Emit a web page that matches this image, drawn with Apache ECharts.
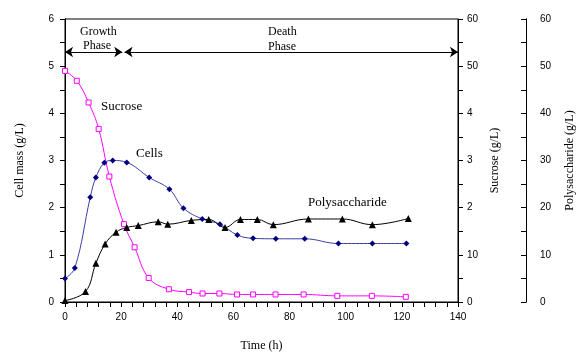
<!DOCTYPE html>
<html><head><meta charset="utf-8">
<script src="https://cdn.jsdelivr.net/npm/echarts@6/dist/echarts.min.js"></script>
<style>html,body{margin:0;padding:0;background:#fff}#c{width:576px;height:352px}</style>
</head><body><div id="c"></div>
<script>
// Time (h) of each sample, per series
const cellsTime = [0, 3.5, 9, 11, 14, 17, 22, 30, 37.2, 42.2, 48.9, 55.2, 61.4, 67, 75.1, 85.4, 97.4, 109.5, 121.6];
const cellsMass = [0.50, 0.72, 2.22, 2.64, 2.95, 3.00, 2.96, 2.64, 2.39, 1.99, 1.76, 1.65, 1.42, 1.35, 1.34, 1.34, 1.24, 1.24, 1.24];
const sucroseTime = [0, 4.2, 8.4, 12, 15.8, 21, 24.8, 29.8, 37, 44.2, 49, 55, 61.3, 67, 75, 85, 97, 109.3, 121.4];
const sucroseConc = [49, 46.9, 42.3, 36.7, 26.6, 16.5, 11.6, 5.1, 2.7, 2.1, 1.8, 1.8, 1.6, 1.6, 1.6, 1.6, 1.3, 1.3, 1.1];
const polyTime = [0, 7.3, 11, 14.3, 18.2, 22, 26.1, 33.2, 36.6, 45, 51.2, 57, 62.5, 68.5, 74.2, 86.7, 98.8, 109.5, 122.3];
const polyConc = [0.3, 2.2, 8.2, 12.3, 14.8, 15.8, 16.2, 17.0, 16.5, 17.3, 17.5, 15.8, 17.5, 17.5, 16.4, 17.6, 17.6, 16.4, 17.7];
// Tick labels
const xTicks = [0, 20, 40, 60, 80, 100, 120, 140];
const cellTicks = ['0', '1', '2', '3', '4', '5', '6'];
const sucroseTicks = ['0', '10', '2', '3', '4', '50', '60'];
const polyTicks = ['0', '10', '20', '30', '40', '50', '60'];
// Phase markers (time h, cell-mass axis level)
const growthPhase = [0, 20.4];
const deathPhase = [21.2, 140];
const phaseLevel = 5.3;

const zip = (a, b) => a.map((t, i) => [t, b[i]]);
const SANS = 'Liberation Sans', SERIF = 'Liberation Serif';
const nameStyle = {color: '#000', fontFamily: SERIF, fontSize: 12};
function labelAx(extra) {
  return Object.assign({
    type: 'value',
    axisLine: {show: true, lineStyle: {color: '#000', width: 1}},
    axisTick: {show: false},
    splitLine: {show: false},
    nameTextStyle: nameStyle
  }, extra);
}
function tickAx(extra, minorSplit, inside) {
  return Object.assign({
    type: 'value',
    axisLine: {show: true, lineStyle: {color: '#000', width: 1}},
    axisLabel: {show: false},
    axisTick: {show: true, inside: !!inside, length: 5, lineStyle: {color: '#000', width: 1}},
    minorTick: {show: true, splitNumber: minorSplit, length: 5, lineStyle: {color: '#000', width: 1}},
    splitLine: {show: false}
  }, extra);
}
function note(text, left, top, size) {
  return {text: text, left: left, top: top, padding: 0, itemGap: 0,
    textStyle: {fontFamily: SERIF, fontSize: size, fontWeight: 'normal', color: '#000'}};
}

const chart = echarts.init(document.getElementById('c'));
chart.setOption({
  animation: false,
  title: [
    note('Growth', 80, 26, 12),
    note('Phase', 83, 40, 12),
    note('Death', 268, 26, 12),
    note('Phase', 268, 41, 12),
    note('Sucrose', 101, 100, 13),
    note('Cells', 136, 147, 13),
    note('Polysaccharide', 308, 196, 13)
  ],
  grid: {left: 65, right: 118, top: 19, bottom: 50, containLabel: false, outerBoundsMode: 'none',
    show: true, borderColor: '#000', borderWidth: 1, backgroundColor: 'transparent'},
  xAxis: [
    labelAx({
      min: 0, max: 140, interval: 20, position: 'bottom',
      name: 'Time (h)', nameLocation: 'middle', nameGap: 38,
      axisLabel: {color: '#000', fontFamily: SANS, fontSize: 10, margin: 10,
        formatter: v => xTicks.includes(v) ? String(v) : ''}
    }),
    tickAx({min: 0, max: 140, interval: 20, position: 'bottom'}, 5)
  ],
  yAxis: [
    labelAx({
      min: 0, max: 6, interval: 1, position: 'left',
      name: 'Cell mass (g/L)', nameLocation: 'middle', nameRotate: 90, nameGap: 39,
      axisLabel: {color: '#000', fontFamily: SANS, fontSize: 10, margin: 11,
        formatter: v => cellTicks[Math.round(v)]}
    }),
    labelAx({
      min: 0, max: 60, interval: 10, position: 'right',
      name: 'Sucrose (g/L)', nameLocation: 'middle', nameRotate: 90, nameGap: 31,
      axisLabel: {color: '#000', fontFamily: SANS, fontSize: 10, margin: 9,
        formatter: v => sucroseTicks[Math.round(v / 10)]}
    }),
    labelAx({
      min: 0, max: 60, interval: 10, position: 'right', offset: 68,
      name: 'Polysaccharide (g/L)', nameLocation: 'middle', nameRotate: 90, nameGap: 38,
      axisLabel: {color: '#000', fontFamily: SANS, fontSize: 10, margin: 14,
        formatter: v => polyTicks[Math.round(v / 10)]}
    }),
    tickAx({min: 0, max: 6, interval: 1, position: 'left'}, 2),
    tickAx({min: 0, max: 60, interval: 10, position: 'right'}, 2),
    tickAx({min: 0, max: 60, interval: 10, position: 'right', offset: 68}, 2, true)
  ],
  series: [
    {
      name: 'Cells', type: 'line', xAxisIndex: 0, yAxisIndex: 0, smooth: 0.4,
      data: zip(cellsTime, cellsMass),
      symbol: 'diamond', symbolSize: 6,
      lineStyle: {color: '#3a3f9e', width: 1},
      itemStyle: {color: '#000080', borderWidth: 0}
    },
    {
      name: 'Sucrose', type: 'line', xAxisIndex: 0, yAxisIndex: 1, smooth: 0.4,
      data: zip(sucroseTime, sucroseConc),
      symbol: 'rect', symbolSize: 5,
      lineStyle: {color: '#ff00ff', width: 1},
      itemStyle: {color: '#fff', borderColor: '#ff00ff', borderWidth: 1}
    },
    {
      name: 'Polysaccharide', type: 'line', xAxisIndex: 0, yAxisIndex: 2, smooth: 0.4,
      data: zip(polyTime, polyConc),
      symbol: 'triangle', symbolSize: 7,
      lineStyle: {color: '#000', width: 1},
      itemStyle: {color: '#000', borderWidth: 0}
    },
    {
      name: 'Phases', type: 'lines', coordinateSystem: 'cartesian2d', xAxisIndex: 0, yAxisIndex: 0,
      silent: true, symbol: ['arrow', 'arrow'], symbolSize: 8,
      lineStyle: {color: '#000', width: 1, opacity: 1, curveness: 0},
      data: [
        {coords: [[growthPhase[0], phaseLevel], [growthPhase[1], phaseLevel]]},
        {coords: [[deathPhase[0], phaseLevel], [deathPhase[1], phaseLevel]]}
      ]
    }
  ]
});
</script>
</body></html>
